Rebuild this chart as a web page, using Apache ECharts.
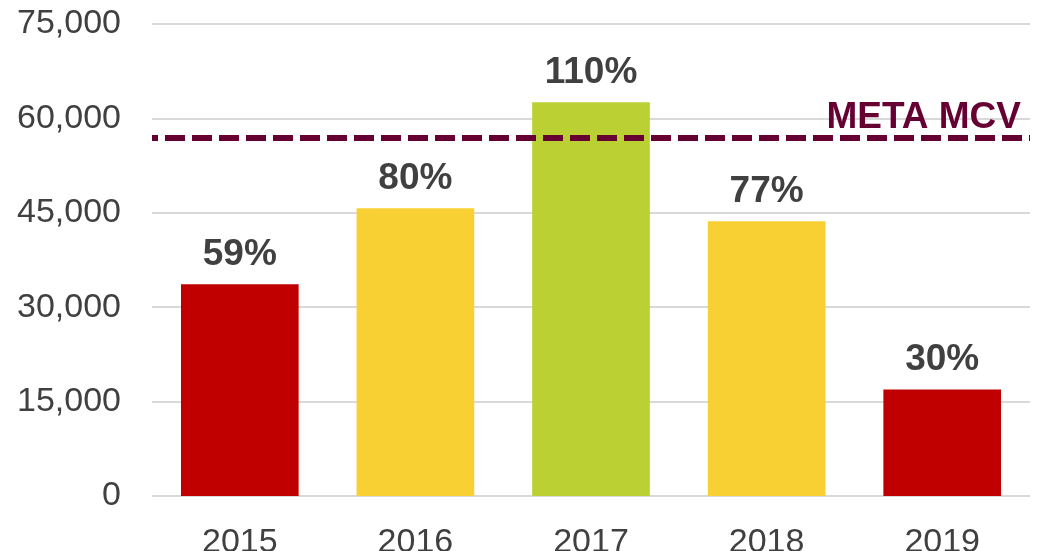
<!DOCTYPE html>
<html>
<head>
<meta charset="utf-8">
<script src="https://cdn.jsdelivr.net/npm/echarts@6/dist/echarts.min.js"></script>
<style>html,body{margin:0;padding:0;background:#fff;}#c{width:1040px;height:551px;}</style>
</head>
<body>
<div id="c"></div>
<script>
var categories = ['2015', '2016', '2017', '2018', '2019'];
var values = [33640, 45720, 62560, 43650, 16910];
var percentLabels = ['59%', '80%', '110%', '77%', '30%'];
var barColors = ['#C00000', '#F8D033', '#BBD033', '#F8D033', '#C00000'];
var metaValue = 57000;
var metaLabel = 'META MCV';
var yTicks = [0, 15000, 30000, 45000, 60000, 75000];

var chart = echarts.init(document.getElementById('c'), null, {renderer: 'canvas'});
var font = '"Liberation Sans", Arial, sans-serif';
chart.setOption({
  animation: false,
  backgroundColor: '#ffffff',
  grid: {left: 152, right: 10, top: 24, bottom: 55, containLabel: false, outerBoundsMode: 'none'},
  xAxis: {
    type: 'category',
    data: categories,
    axisLine: {show: false},
    axisTick: {show: false},
    axisLabel: {color: '#404040', fontSize: 34, fontFamily: font, margin: 30}
  },
  yAxis: {
    type: 'value',
    min: yTicks[0],
    max: yTicks[yTicks.length - 1],
    interval: yTicks[1] - yTicks[0],
    axisLine: {show: false},
    axisTick: {show: false},
    splitLine: {lineStyle: {color: '#d9d9d9', width: 2}},
    axisLabel: {
      color: '#404040', fontSize: 34, fontFamily: font, margin: 31,
      formatter: function (v) { return v.toLocaleString('en-US'); }
    }
  },
  series: [{
    type: 'bar',
    barCategoryGap: '33%',
    data: values.map(function (v, i) {
      return {value: v, itemStyle: {color: barColors[i]}};
    }),
    label: {
      show: true,
      position: 'top',
      distance: 11,
      color: '#404040',
      fontSize: 37,
      fontWeight: 'bold',
      fontFamily: font,
      formatter: function (p) { return percentLabels[p.dataIndex]; }
    },
    markLine: {
      silent: true,
      symbol: 'none',
      lineStyle: {color: '#660033', width: 6, type: [20, 7], dashOffset: 14},
      label: {
        show: true,
        position: 'insideEndTop',
        distance: [9, 1],
        formatter: metaLabel,
        color: '#660033',
        fontSize: 37,
        fontWeight: 'bold',
        fontFamily: font
      },
      data: [{yAxis: metaValue}]
    }
  }]
});
</script>
</body>
</html>
